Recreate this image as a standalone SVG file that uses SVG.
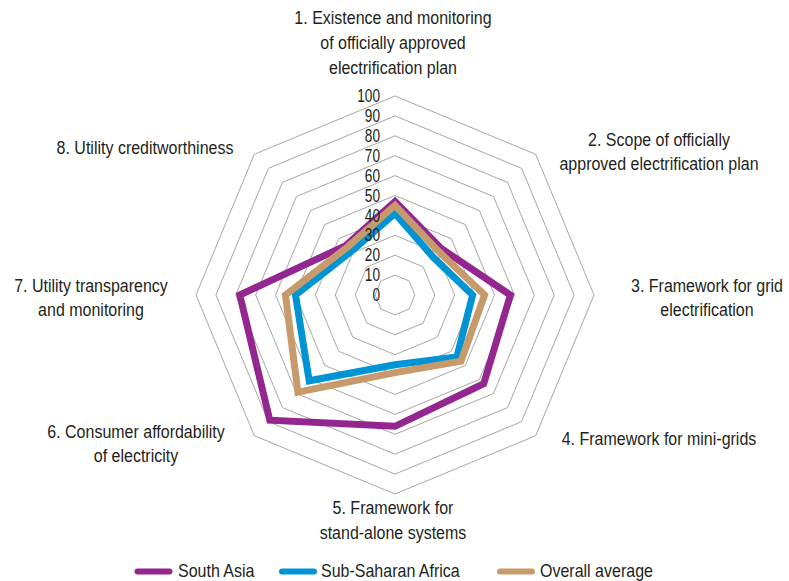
<svg xmlns="http://www.w3.org/2000/svg" width="789" height="581" viewBox="0 0 789 581">
<style>
.ring{fill:none;stroke:#a6a6a6;stroke-width:1}
.ser{fill:none;stroke-width:7;stroke-linejoin:miter;stroke-miterlimit:4}
.sa{stroke:#93278f}
.ssa{stroke:#0094d5}
.avg{stroke:#c79a6c}
text{font-family:'Liberation Sans',Arial,sans-serif;fill:#231f20}
.lbl{font-size:18.5px;text-anchor:middle}
.tick{font-size:17.5px;text-anchor:end;dominant-baseline:central}
.leg{font-size:18px}
.legline{stroke-width:6;stroke-linecap:round}
</style>
<rect width="789" height="581" fill="#ffffff"/>
<g id="grid" transform="translate(395,295)">
<polygon class="ring" points="0,-19.9 14.07,-14.07 19.9,0 14.07,14.07 0,19.9 -14.07,14.07 -19.9,0 -14.07,-14.07"/>
<polygon class="ring" points="0,-39.8 28.14,-28.14 39.8,0 28.14,28.14 0,39.8 -28.14,28.14 -39.8,0 -28.14,-28.14"/>
<polygon class="ring" points="0,-59.7 42.21,-42.21 59.7,0 42.21,42.21 0,59.7 -42.21,42.21 -59.7,0 -42.21,-42.21"/>
<polygon class="ring" points="0,-79.6 56.29,-56.29 79.6,0 56.29,56.29 0,79.6 -56.29,56.29 -79.6,0 -56.29,-56.29"/>
<polygon class="ring" points="0,-99.5 70.36,-70.36 99.5,0 70.36,70.36 0,99.5 -70.36,70.36 -99.5,0 -70.36,-70.36"/>
<polygon class="ring" points="0,-119.4 84.43,-84.43 119.4,0 84.43,84.43 0,119.4 -84.43,84.43 -119.4,0 -84.43,-84.43"/>
<polygon class="ring" points="0,-139.3 98.5,-98.5 139.3,0 98.5,98.5 0,139.3 -98.5,98.5 -139.3,0 -98.5,-98.5"/>
<polygon class="ring" points="0,-159.2 112.57,-112.57 159.2,0 112.57,112.57 0,159.2 -112.57,112.57 -159.2,0 -112.57,-112.57"/>
<polygon class="ring" points="0,-179.1 126.64,-126.64 179.1,0 126.64,126.64 0,179.1 -126.64,126.64 -179.1,0 -126.64,-126.64"/>
<polygon class="ring" points="0,-199 140.71,-140.71 199,0 140.71,140.71 0,199 -140.71,140.71 -199,0 -140.71,-140.71"/>
</g>
<g id="series" transform="translate(395,295)">
<polygon id="south-asia" class="ser sa" points="0,-93.5 46.4,-46.4 115.4,0 88.7,88.7 0,131.3 -125.2,125.2 -155.2,0 -49.3,-49.3"/>
<polygon id="sub-saharan-africa" class="ser ssa" points="0,-81.6 38,-38 77.6,0 61.9,61.9 0,69.7 -85.8,85.8 -99.5,0 -43.6,-43.6"/>
<polygon id="overall-average" class="ser avg" points="0,-89.6 43.6,-43.6 89.6,0 66.1,66.1 0,77.6 -97.1,97.1 -109.5,0 -47.8,-47.8"/>
</g>
<g id="ticks">
<text class="tick" transform="translate(380,96) scale(0.78,1)">100</text>
<text class="tick" transform="translate(380,115.9) scale(0.78,1)">90</text>
<text class="tick" transform="translate(380,135.8) scale(0.78,1)">80</text>
<text class="tick" transform="translate(380,155.7) scale(0.78,1)">70</text>
<text class="tick" transform="translate(380,175.6) scale(0.78,1)">60</text>
<text class="tick" transform="translate(380,195.5) scale(0.78,1)">50</text>
<text class="tick" transform="translate(380,215.4) scale(0.78,1)">40</text>
<text class="tick" transform="translate(380,235.3) scale(0.78,1)">30</text>
<text class="tick" transform="translate(380,255.2) scale(0.78,1)">20</text>
<text class="tick" transform="translate(380,275.1) scale(0.78,1)">10</text>
<text class="tick" transform="translate(380,295) scale(0.78,1)">0</text>
</g>
<g id="axis-labels">
<g id="label-1"><text class="lbl" transform="translate(393,24) scale(0.865,1)">1. Existence and monitoring</text><text class="lbl" transform="translate(393,49) scale(0.865,1)">of officially approved</text><text class="lbl" transform="translate(393,74) scale(0.865,1)">electrification plan</text></g>
<g id="label-2"><text class="lbl" transform="translate(659,146) scale(0.865,1)">2. Scope of officially</text><text class="lbl" transform="translate(659,170) scale(0.865,1)">approved electrification plan</text></g>
<g id="label-3"><text class="lbl" transform="translate(707,292) scale(0.865,1)">3. Framework for grid</text><text class="lbl" transform="translate(707,316) scale(0.865,1)">electrification</text></g>
<g id="label-4"><text class="lbl" transform="translate(659,445) scale(0.865,1)">4. Framework for mini-grids</text></g>
<g id="label-5"><text class="lbl" transform="translate(393,514) scale(0.865,1)">5. Framework for</text><text class="lbl" transform="translate(393,539) scale(0.865,1)">stand-alone systems</text></g>
<g id="label-6"><text class="lbl" transform="translate(136,438) scale(0.865,1)">6. Consumer affordability</text><text class="lbl" transform="translate(136,462) scale(0.865,1)">of electricity</text></g>
<g id="label-7"><text class="lbl" transform="translate(91,292) scale(0.865,1)">7. Utility transparency</text><text class="lbl" transform="translate(91,316) scale(0.865,1)">and monitoring</text></g>
<g id="label-8"><text class="lbl" transform="translate(145,154) scale(0.865,1)">8. Utility creditworthiness</text></g>
</g>
<g id="legend">
<line class="legline sa" x1="137.5" y1="571.5" x2="169.5" y2="571.5"/>
<text class="leg" transform="translate(178,576.5) scale(0.89,1)">South Asia</text>
<line class="legline ssa" x1="282" y1="571.5" x2="314" y2="571.5"/>
<text class="leg" transform="translate(321,576.5) scale(0.89,1)">Sub-Saharan Africa</text>
<line class="legline avg" x1="500" y1="571.5" x2="532" y2="571.5"/>
<text class="leg" transform="translate(540,576.5) scale(0.89,1)">Overall average</text>
</g>
</svg>
